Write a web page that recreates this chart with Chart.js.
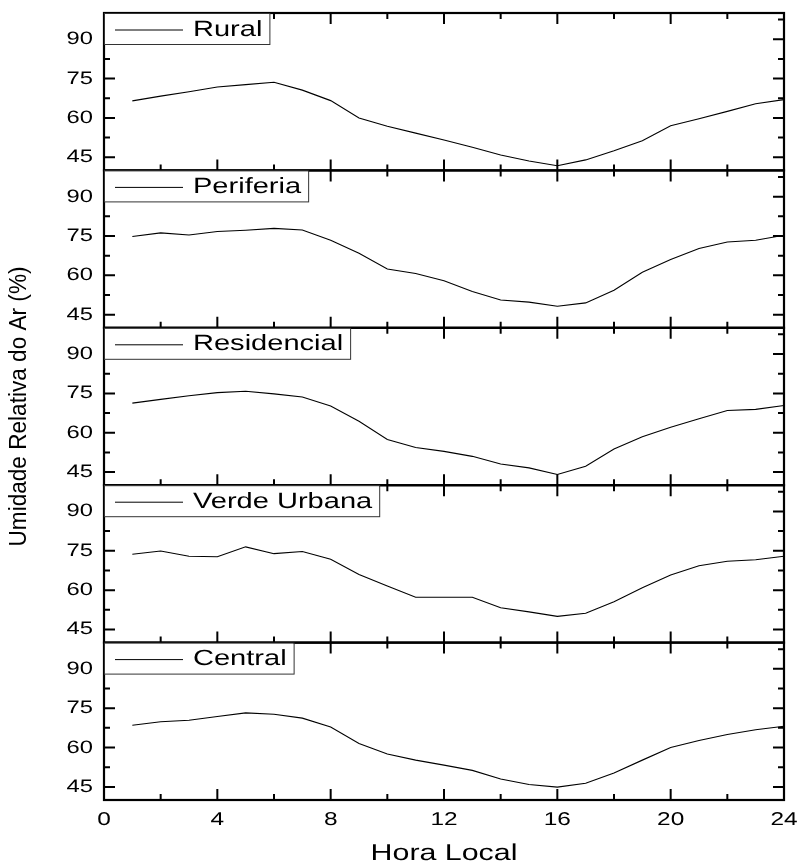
<!DOCTYPE html>
<html>
<head>
<meta charset="utf-8">
<script src="https://cdn.jsdelivr.net/npm/chart.js@4/dist/chart.umd.min.js"></script>
<style>
  html, body { margin: 0; padding: 0; background: #fff; }
</style>
</head>
<body>
<canvas id="humidity" width="800" height="866"></canvas>
<script>
// hourly relative humidity (%) per site
const hours = [1, 2, 3, 4, 5, 6, 7, 8, 9, 10, 11, 12, 13, 14, 15, 16, 17, 18, 19, 20, 21, 22, 23, 24];
const sites = ["Rural", "Periferia", "Residencial", "Verde Urbana", "Central"];
const rural = [66.5, 68.3, 70.0, 71.8, 72.7, 73.6, 70.6, 66.6, 60.0, 56.8, 54.2, 51.6, 48.8, 45.9, 43.6, 41.8, 44.0, 47.5, 51.3, 57.0, 59.7, 62.5, 65.4, 67.0];
const periferia = [74.8, 76.2, 75.4, 76.7, 77.2, 77.9, 77.3, 73.4, 68.4, 62.4, 60.7, 57.9, 53.8, 50.6, 49.8, 48.2, 49.5, 54.3, 61.2, 66.0, 70.2, 72.7, 73.4, 75.3];
const residencial = [71.3, 72.7, 74.1, 75.3, 75.8, 74.8, 73.6, 70.2, 64.4, 57.4, 54.4, 52.9, 51.0, 48.1, 46.6, 44.1, 47.2, 53.8, 58.5, 62.1, 65.3, 68.5, 68.9, 70.4];
const verdeUrbana = [73.7, 74.9, 72.9, 72.7, 76.5, 73.9, 74.7, 71.8, 66.0, 61.6, 57.3, 57.3, 57.3, 53.3, 51.7, 50.0, 51.2, 55.6, 60.9, 65.8, 69.3, 71.0, 71.6, 72.9];
const central = [68.5, 69.8, 70.4, 71.8, 73.2, 72.7, 71.2, 67.8, 61.5, 57.5, 55.2, 53.3, 51.3, 48.0, 45.9, 44.9, 46.4, 50.3, 55.2, 60.0, 62.7, 65.0, 66.8, 68.1];
const series = [rural, periferia, residencial, verdeUrbana, central];

const yTicks = [45, 60, 75, 90];
const yMinorTicks = [52.5, 67.5, 82.5, 97.5];
const xTicks = [0, 4, 8, 12, 16, 20, 24];
const xMinorTicks = [2, 6, 10, 14, 18, 22];

const FONT = '"Liberation Sans", Arial, sans-serif';
const SX = 1.32; // the original text is drawn wide

// draw text stretched horizontally
function wideText(ctx, text, x, y, align, size) {
  ctx.save();
  ctx.font = size + "px " + FONT;
  if ("textRendering" in ctx) ctx.textRendering = "geometricPrecision";
  const w = ctx.measureText(text).width * SX;
  let x0 = x;
  if (align === "right") x0 = x - w;
  if (align === "center") x0 = x - w / 2;
  ctx.translate(x0, y);
  ctx.scale(SX, 1);
  ctx.textAlign = "left";
  ctx.textBaseline = "middle";
  ctx.fillStyle = "#000";
  ctx.fillText(text, 0, 0);
  ctx.restore();
  return w;
}

const panelFrame = {
  id: "panelFrame",
  afterDatasetsDraw(chart) {
    const { ctx, chartArea } = chart;
    const xs = chart.scales.x;
    const left = chartArea.left, right = chartArea.right;

    sites.forEach(function (name, i) {
      const ys = chart.scales["y" + i];
      const top = ys.top, bottom = ys.bottom;

      ctx.save();
      ctx.strokeStyle = "#000";
      ctx.lineWidth = 2;
      ctx.beginPath();
      // inward ticks on all four sides
      yTicks.forEach(function (v) {
        const py = ys.getPixelForValue(v);
        ctx.moveTo(left, py); ctx.lineTo(left + 11, py);
        ctx.moveTo(right, py); ctx.lineTo(right - 11, py);
      });
      yMinorTicks.forEach(function (v) {
        const py = ys.getPixelForValue(v);
        ctx.moveTo(left, py); ctx.lineTo(left + 6, py);
        ctx.moveTo(right, py); ctx.lineTo(right - 6, py);
      });
      xTicks.forEach(function (v) {
        const px = xs.getPixelForValue(v);
        ctx.moveTo(px, bottom); ctx.lineTo(px, bottom - 11);
        ctx.moveTo(px, top); ctx.lineTo(px, top + 11);
      });
      xMinorTicks.forEach(function (v) {
        const px = xs.getPixelForValue(v);
        ctx.moveTo(px, bottom); ctx.lineTo(px, bottom - 6);
        ctx.moveTo(px, top); ctx.lineTo(px, top + 6);
      });
      ctx.stroke();
      ctx.lineWidth = 2.2;
      ctx.strokeRect(left, top, right - left, bottom - top);
      ctx.restore();

      // y tick labels
      yTicks.forEach(function (v) {
        wideText(ctx, String(v), left - 11, ys.getPixelForValue(v), "right", 18);
      });

      // legend box
      ctx.save();
      ctx.font = "22px " + FONT;
      const tw = ctx.measureText(name).width * SX;
      const bx = left, by = top + 0.5, bh = 31;
      const bw = 89 + tw + 7;
      ctx.fillStyle = "#fff";
      ctx.fillRect(bx, by, bw, bh);
      ctx.strokeStyle = "#333";
      ctx.lineWidth = 1;
      ctx.strokeRect(bx + 0.5, by, bw, bh);
      ctx.strokeStyle = "#000";
      ctx.beginPath();
      ctx.moveTo(bx + 11, by + 16.5);
      ctx.lineTo(bx + 79, by + 16.5);
      ctx.stroke();
      ctx.restore();
      wideText(ctx, name, bx + 89, by + 16, "left", 22);
    });

    // x tick labels under the last panel
    xTicks.forEach(function (v) {
      wideText(ctx, String(v), xs.getPixelForValue(v), chartArea.bottom + 20, "center", 18.5);
    });

    // axis titles
    wideText(ctx, "Hora Local", (left + right) / 2, chartArea.bottom + 54, "center", 23);

    ctx.save();
    ctx.font = "23px " + FONT;
    const label = "Umidade Relativa do Ar (%)";
    const lw = ctx.measureText(label).width;
    const target = 280;
    ctx.translate(19, (chartArea.top + chartArea.bottom) / 2);
    ctx.rotate(-Math.PI / 2);
    ctx.scale(target / lw, 1.05);
    ctx.textAlign = "center";
    ctx.textBaseline = "middle";
    ctx.fillStyle = "#000";
    ctx.fillText(label, 0, 0);
    ctx.restore();
  }
};

const yScales = {};
sites.forEach(function (name, i) {
  yScales["y" + i] = {
    type: "linear",
    display: false,
    position: "left",
    stack: "panels",
    stackWeight: 1,
    weight: sites.length - i,
    min: 40,
    max: 100
  };
});

const datasets = sites.map(function (name, i) {
  return {
    label: name,
    data: hours.map(function (h, k) { return { x: h, y: series[i][k] }; }),
    yAxisID: "y" + i,
    borderColor: "#000",
    borderWidth: 1.1,
    pointRadius: 0,
    tension: 0,
    fill: false
  };
});

new Chart(document.getElementById("humidity"), {
  type: "line",
  data: { datasets: datasets },
  options: {
    responsive: false,
    animation: false,
    layout: { padding: { left: 104, right: 16, top: 13, bottom: 66 } },
    plugins: { legend: { display: false }, tooltip: { enabled: false } },
    scales: Object.assign({
      x: { type: "linear", display: false, position: "bottom", min: 0, max: 24 }
    }, yScales)
  },
  plugins: [panelFrame]
});
</script>
</body>
</html>
